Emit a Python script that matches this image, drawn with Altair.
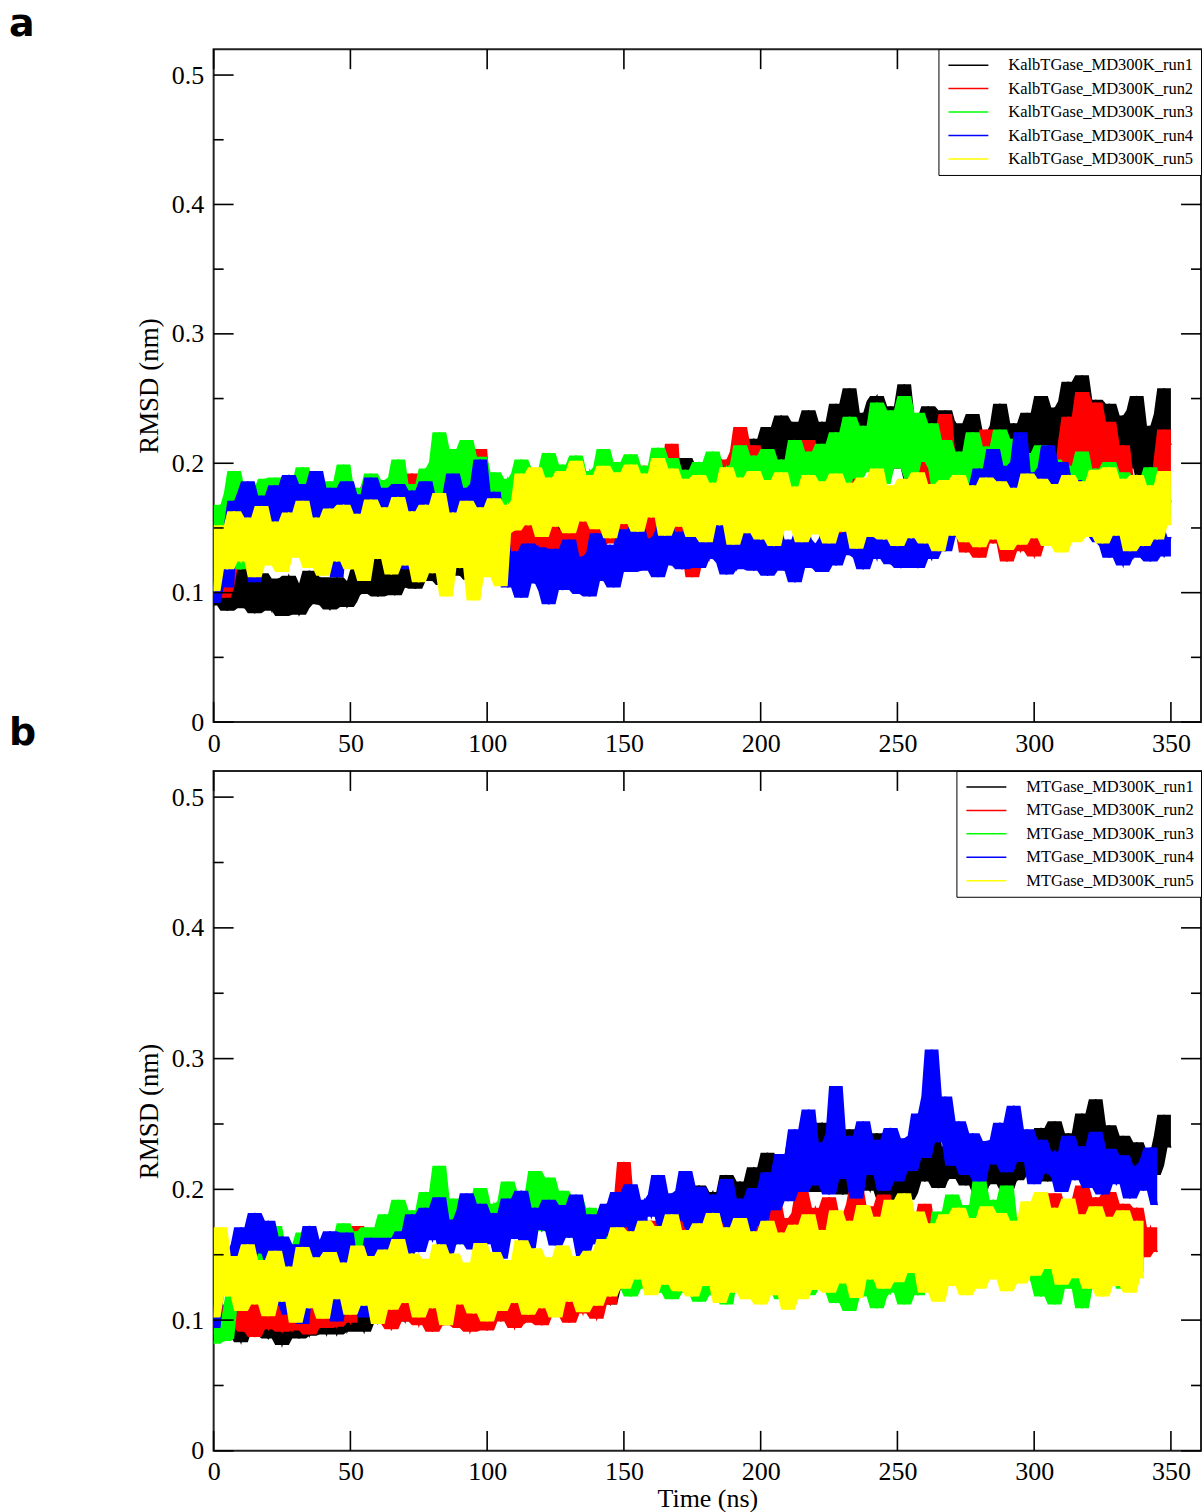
import altair as alt
import pandas as pd

# Sampling interval of the RMSD traces (ns); values are stored in units of 0.001 nm
STEP = 1.25

# ---- Panel a: KalbTGase, five 300 K runs ----
kalb_run1 = [
    90, 101, 112, 94, 86, 105, 118, 110, 95, 88, 108, 119, 84, 97, 115, 102, 92, 86, 104, 111,
    82, 96, 113, 107, 94, 83, 88, 101, 117, 104, 91, 112, 105, 90, 87, 99, 112, 108, 98, 89,
    93, 109, 118, 99, 101, 114, 126, 106, 97, 110, 121, 127, 108, 98, 132, 116, 104, 123, 119, 103,
    112, 124, 138, 118, 109, 133, 129, 106, 117, 128, 143, 122, 113, 131, 135, 110, 121, 137, 146, 119,
    118, 132, 139, 121, 127, 144, 152, 130, 124, 141, 147, 126, 133, 149, 158, 136, 129, 145, 151, 134,
    137, 150, 162, 141, 134, 158, 155, 136, 142, 163, 168, 145, 138, 152, 159, 140, 146, 166, 171, 149,
    141, 157, 165, 143, 150, 171, 176, 152, 146, 160, 169, 178, 155, 166, 183, 161, 162, 189, 204, 172,
    168, 187, 198, 173, 175, 194, 206, 180, 171, 201, 192, 176, 183, 204, 211, 184, 178, 196, 219, 189,
    186, 211, 228, 194, 179, 221, 237, 203, 192, 232, 224, 189, 185, 216, 241, 207, 198, 226, 232, 195,
    188, 219, 246, 206, 201, 236, 258, 214, 194, 227, 239, 198, 207, 248, 252, 211, 189, 233, 244, 205,
    196, 238, 261, 209, 185, 219, 236, 191, 198, 244, 229, 186, 178, 213, 241, 202, 192, 231, 226, 188,
    182, 213, 238, 197, 175, 206, 224, 187, 191, 229, 246, 201, 184, 218, 231, 193, 196, 226, 239, 204,
    188, 227, 252, 209, 201, 234, 243, 212, 192, 248, 263, 221, 205, 239, 268, 216, 197, 236, 249, 207,
    208, 231, 246, 199, 189, 222, 237, 203, 196, 241, 252, 214, 184, 209, 229, 196, 201, 238, 258, 223,
    214,
]
kalb_run2 = [
    98, 109, 121, 96, 104, 127, 142, 119, 128, 151, 163, 144, 139, 168, 181, 157, 152, 169, 176, 148,
    143, 162, 171, 150, 158, 177, 186, 161, 149, 173, 168, 146, 137, 164, 179, 158, 154, 172, 183, 155,
    146, 167, 174, 151, 159, 182, 188, 163, 151, 169, 177, 148, 142, 160, 169, 174, 161, 184, 192, 166,
    155, 170, 181, 158, 147, 164, 172, 181, 163, 178, 196, 159, 152, 174, 185, 162, 168, 193, 211, 171,
    149, 163, 178, 142, 131, 150, 164, 127, 118, 139, 152, 121, 126, 147, 161, 129, 134, 149, 158, 131,
    122, 137, 149, 126, 138, 159, 171, 141, 127, 146, 156, 124, 133, 157, 168, 138, 141, 163, 177, 148,
    129, 151, 162, 137, 145, 176, 198, 157, 136, 167, 184, 142, 151, 193, 215, 163, 142, 158, 173, 131,
    112, 139, 158, 124, 131, 162, 176, 139, 147, 186, 203, 171, 162, 209, 228, 183, 171, 197, 214, 176,
    158, 181, 193, 154, 143, 168, 182, 151, 161, 192, 206, 163, 149, 201, 218, 172, 166, 188, 197, 152,
    139, 163, 178, 144, 152, 176, 189, 148, 134, 159, 171, 141, 158, 183, 196, 162, 147, 171, 182, 150,
    141, 169, 187, 152, 156, 181, 198, 163, 149, 208, 223, 179, 172, 219, 238, 184, 161, 192, 204, 147,
    131, 178, 196, 139, 127, 207, 226, 151, 138, 194, 212, 143, 124, 167, 183, 136, 132, 159, 176, 134,
    128, 153, 169, 137, 146, 178, 193, 164, 158, 217, 236, 196, 184, 231, 255, 204, 192, 229, 247, 193,
    176, 214, 232, 181, 168, 197, 214, 158, 149, 176, 191, 138, 131, 161, 178, 143, 152, 204, 226, 168,
    172,
]
kalb_run3 = [
    102, 141, 168, 159, 152, 177, 194, 163, 118, 154, 181, 172, 149, 161, 176, 188, 158, 171, 189, 156,
    147, 172, 183, 164, 161, 185, 197, 168, 152, 162, 178, 157, 144, 171, 186, 159, 163, 181, 199, 167,
    151, 169, 181, 162, 158, 176, 192, 171, 146, 163, 187, 178, 162, 189, 203, 166, 155, 174, 184, 161,
    163, 181, 196, 172, 158, 201, 224, 183, 167, 192, 211, 176, 152, 187, 218, 179, 171, 193, 205, 168,
    156, 178, 193, 167, 162, 174, 188, 181, 171, 192, 203, 177, 166, 183, 196, 169, 174, 194, 208, 182,
    168, 187, 199, 172, 176, 193, 206, 179, 163, 181, 194, 186, 178, 197, 211, 183, 169, 188, 201, 175,
    174, 191, 207, 178, 166, 184, 198, 188, 179, 196, 212, 182, 171, 193, 204, 185, 176, 188, 195, 172,
    168, 185, 201, 179, 174, 196, 209, 183, 163, 179, 197, 191, 177, 199, 214, 186, 171, 193, 206, 178,
    166, 192, 211, 184, 175, 189, 203, 181, 169, 198, 218, 187, 178, 196, 209, 183, 172, 201, 215, 189,
    181, 207, 224, 193, 176, 212, 236, 201, 188, 214, 229, 206, 193, 222, 247, 209, 184, 227, 241, 204,
    196, 229, 252, 211, 188, 217, 239, 214, 201, 222, 231, 196, 179, 203, 218, 188, 172, 194, 209, 183,
    176, 203, 224, 187, 168, 196, 213, 191, 182, 209, 226, 193, 174, 201, 219, 188, 181, 197, 208, 179,
    169, 193, 214, 186, 177, 194, 203, 176, 165, 184, 198, 181, 172, 191, 209, 178, 163, 182, 196, 171,
    158, 184, 201, 173, 166, 179, 193, 168, 154, 172, 188, 176, 161, 183, 197, 162, 149, 167, 182, 158,
    171,
]
kalb_run4 = [
    92, 118, 148, 131, 104, 152, 171, 163, 157, 178, 186, 149, 108, 162, 175, 158, 143, 171, 183, 164,
    152, 178, 191, 163, 138, 159, 177, 184, 162, 171, 194, 158, 146, 172, 181, 155, 112, 147, 169, 186,
    141, 163, 176, 149, 155, 172, 189, 161, 134, 157, 172, 181, 158, 167, 184, 143, 118, 161, 179, 166,
    153, 174, 186, 148, 121, 158, 174, 162, 147, 177, 192, 168, 119, 154, 181, 171, 156, 184, 203, 164,
    142, 167, 178, 139, 151, 118, 104, 121, 132, 109, 96, 124, 138, 114, 107, 135, 129, 101, 91, 117,
    134, 118, 102, 127, 141, 123, 112, 99, 128, 113, 97, 131, 146, 121, 109, 126, 137, 104, 118, 132,
    149, 128, 116, 141, 153, 117, 124, 136, 142, 129, 112, 147, 158, 131, 121, 139, 147, 118, 131, 143,
    151, 134, 119, 128, 144, 137, 126, 149, 156, 123, 114, 132, 139, 118, 122, 141, 148, 129, 117, 138,
    145, 124, 113, 137, 152, 131, 124, 117, 141, 126, 108, 134, 149, 141, 127, 119, 138, 129, 116, 142,
    153, 136, 121, 132, 146, 141, 129, 148, 162, 127, 118, 139, 149, 133, 126, 144, 157, 131, 122, 137,
    141, 119, 128, 143, 155, 134, 119, 138, 148, 131, 126, 147, 159, 141, 132, 152, 171, 158, 143, 162,
    178, 169, 158, 184, 196, 177, 166, 193, 211, 186, 171, 198, 189, 174, 162, 201, 224, 189, 168, 181,
    193, 178, 172, 197, 214, 184, 163, 188, 201, 176, 158, 172, 187, 163, 152, 169, 178, 143, 161, 139,
    149, 136, 127, 141, 153, 128, 121, 139, 146, 127, 132, 148, 158, 137, 124, 143, 151, 133, 128, 136,
    143,
]
kalb_run5 = [
    101, 128, 152, 137, 118, 147, 163, 131, 124, 142, 158, 126, 112, 139, 167, 144, 121, 133, 155, 129,
    116, 141, 162, 134, 127, 149, 171, 138, 119, 145, 158, 131, 113, 137, 165, 142, 124, 151, 168, 135,
    118, 139, 161, 127, 109, 146, 172, 143, 126, 152, 166, 133, 114, 141, 174, 148, 121, 136, 163, 131,
    108, 137, 168, 129, 115, 149, 177, 124, 97, 138, 162, 145, 119, 133, 171, 127, 94, 131, 166, 142,
    112, 139, 173, 128, 105, 146, 168, 163, 148, 171, 192, 166, 152, 178, 197, 169, 143, 164, 189, 172,
    151, 168, 194, 173, 146, 179, 202, 172, 155, 167, 191, 176, 149, 181, 198, 164, 142, 171, 193, 177,
    153, 174, 199, 168, 147, 172, 192, 177, 158, 183, 204, 171, 144, 169, 196, 174, 151, 167, 188, 162,
    143, 168, 191, 159, 139, 163, 185, 171, 152, 177, 197, 164, 137, 161, 189, 172, 146, 169, 194, 166,
    141, 162, 187, 158, 136, 167, 193, 171, 148, 163, 182, 159, 139, 168, 191, 163, 145, 166, 186, 157,
    138, 164, 192, 169, 147, 161, 185, 155, 134, 163, 189, 172, 143, 167, 196, 159, 141, 164, 183, 158,
    136, 161, 188, 166, 142, 169, 193, 158, 138, 162, 184, 153, 132, 161, 187, 167, 144, 171, 191, 163,
    139, 158, 183, 161, 135, 164, 189, 168, 141, 166, 186, 157, 133, 152, 181, 163, 137, 168, 192, 162,
    142, 167, 188, 159, 136, 161, 184, 156, 131, 163, 191, 168, 139, 164, 186, 171, 143, 169, 195, 164,
    138, 171, 197, 166, 144, 163, 188, 158, 132, 164, 191, 161, 136, 157, 183, 166, 141, 172, 194, 168,
    152,
]

# ---- Panel b: MTGase, five 300 K runs ----
mtg_run1 = [
    84, 95, 102, 87, 89, 99, 97, 91, 83, 94, 106, 97, 91, 103, 99, 88, 86, 96, 104, 92,
    81, 90, 98, 104, 93, 86, 108, 97, 88, 94, 101, 109, 94, 89, 111, 98, 89, 95, 103, 91,
    96, 104, 109, 97, 91, 102, 114, 105, 98, 108, 112, 99, 103, 113, 118, 106, 99, 111, 121, 109,
    104, 116, 123, 111, 108, 101, 119, 114, 112, 121, 127, 115, 106, 118, 124, 109, 113, 122, 129, 117,
    109, 119, 126, 113, 114, 124, 131, 118, 111, 121, 128, 116, 117, 127, 134, 121, 113, 123, 129, 118,
    118, 127, 136, 122, 115, 126, 132, 119, 121, 131, 139, 124, 117, 121, 126, 114, 112, 123, 131, 135,
    138, 147, 156, 141, 147, 159, 168, 155, 152, 166, 174, 162, 161, 176, 183, 171, 169, 181, 192, 178,
    176, 191, 203, 187, 184, 193, 198, 182, 179, 196, 211, 191, 188, 199, 206, 186, 182, 203, 217, 196,
    193, 214, 228, 205, 201, 213, 219, 198, 195, 226, 242, 216, 207, 224, 236, 211, 198, 236, 251, 217,
    204, 226, 238, 209, 196, 229, 246, 218, 209, 221, 231, 204, 199, 227, 243, 212, 191, 209, 228, 203,
    186, 201, 214, 192, 197, 224, 241, 219, 206, 238, 257, 222, 201, 217, 233, 208, 212, 234, 246, 219,
    203, 227, 239, 211, 196, 214, 228, 204, 208, 231, 244, 213, 199, 216, 231, 207, 211, 229, 238, 216,
    214, 236, 247, 218, 206, 234, 252, 223, 219, 229, 243, 216, 211, 241, 258, 227, 221, 249, 269, 232,
    216, 238, 249, 221, 208, 226, 241, 214, 203, 222, 236, 219, 212, 218, 229, 211, 218, 241, 257, 238,
    232,
]
mtg_run2 = [
    89, 101, 112, 98, 94, 108, 121, 104, 98, 91, 109, 117, 87, 102, 115, 96, 93, 111, 106, 95,
    91, 104, 113, 92, 97, 111, 108, 99, 89, 106, 117, 109, 102, 94, 123, 107, 95, 101, 111, 103,
    98, 146, 172, 141, 124, 139, 163, 118, 101, 109, 118, 97, 93, 105, 114, 102, 99, 113, 121, 104,
    96, 108, 117, 101, 91, 112, 124, 96, 102, 114, 119, 106, 94, 103, 112, 91, 97, 109, 126, 111,
    92, 103, 115, 107, 99, 114, 122, 101, 94, 109, 118, 98, 101, 116, 127, 108, 96, 112, 121, 104,
    103, 114, 124, 109, 98, 117, 129, 112, 105, 121, 131, 108, 101, 118, 125, 114, 112, 136, 158, 191,
    221, 188, 163, 174, 184, 159, 152, 168, 176, 162, 149, 157, 171, 164, 158, 176, 183, 168, 162, 171,
    174, 162, 151, 172, 186, 169, 163, 184, 179, 163, 156, 177, 191, 168, 148, 163, 177, 171, 161, 168,
    184, 167, 153, 179, 192, 174, 166, 161, 178, 163, 149, 182, 198, 184, 171, 179, 186, 172, 159, 176,
    194, 177, 162, 168, 181, 172, 155, 189, 203, 184, 168, 176, 187, 166, 158, 181, 196, 184, 171, 179,
    182, 168, 159, 171, 176, 163, 148, 172, 189, 166, 157, 162, 171, 154, 146, 167, 178, 161, 152, 144,
    139, 154, 162, 141, 131, 149, 158, 143, 136, 152, 167, 157, 142, 163, 173, 159, 151, 172, 184, 169,
    163, 182, 191, 176, 171, 186, 197, 178, 164, 173, 188, 184, 176, 192, 203, 181, 168, 183, 194, 177,
    172, 189, 198, 174, 161, 177, 189, 164, 153, 171, 186, 159, 148, 163, 171, 158, 152,
]
mtg_run3 = [
    82, 91, 98, 84, 86, 112, 131, 147, 154, 136, 118, 149, 162, 141, 127, 138, 149, 163, 172, 151,
    133, 147, 158, 139, 124, 151, 167, 143, 138, 162, 151, 134, 129, 148, 163, 152, 141, 159, 174, 149,
    136, 157, 168, 153, 147, 171, 159, 148, 143, 164, 181, 167, 152, 178, 192, 171, 157, 169, 184, 172,
    163, 182, 198, 179, 171, 197, 218, 184, 164, 178, 193, 171, 158, 174, 187, 163, 169, 188, 201, 176,
    161, 177, 189, 183, 172, 191, 206, 179, 166, 183, 197, 186, 176, 192, 214, 188, 168, 186, 209, 181,
    174, 188, 199, 179, 163, 181, 194, 176, 171, 179, 186, 167, 158, 169, 179, 161, 143, 132, 124, 131,
    138, 126, 118, 133, 146, 137, 124, 141, 151, 132, 128, 121, 139, 128, 116, 131, 147, 136, 121, 129,
    136, 122, 114, 137, 148, 131, 125, 119, 141, 127, 112, 136, 153, 139, 129, 133, 143, 128, 118, 134,
    151, 133, 122, 138, 144, 126, 116, 141, 158, 142, 127, 129, 146, 133, 119, 131, 154, 138, 124, 136,
    139, 121, 113, 129, 148, 124, 107, 119, 142, 131, 118, 137, 151, 128, 109, 118, 137, 129, 121, 133,
    146, 127, 112, 124, 139, 131, 119, 143, 152, 158, 131, 162, 183, 171, 147, 176, 196, 184, 158, 172,
    188, 171, 154, 183, 207, 189, 163, 178, 192, 184, 171, 168, 203, 161, 149, 163, 178, 151, 136, 142,
    148, 129, 118, 134, 153, 127, 112, 126, 141, 137, 124, 139, 156, 128, 109, 124, 147, 138, 126, 141,
    158, 144, 131, 147, 162, 139, 124, 141, 153, 146, 137, 144, 149,
]
mtg_run4 = [
    94, 121, 138, 146, 152, 131, 119, 158, 171, 162, 143, 168, 182, 164, 151, 163, 176, 142, 111, 147,
    164, 138, 104, 142, 158, 121, 97, 153, 172, 161, 142, 127, 108, 149, 168, 146, 99, 131, 153, 167,
    114, 136, 147, 118, 102, 148, 163, 127, 109, 151, 138, 163, 121, 144, 157, 168, 143, 166, 181, 159,
    152, 173, 186, 167, 161, 178, 194, 171, 148, 162, 177, 158, 166, 184, 197, 172, 154, 171, 189, 166,
    158, 172, 182, 161, 147, 178, 193, 169, 162, 187, 199, 173, 151, 169, 186, 177, 169, 181, 192, 168,
    157, 176, 188, 171, 163, 184, 196, 167, 149, 163, 181, 172, 158, 166, 177, 189, 164, 181, 198, 177,
    171, 188, 204, 176, 163, 181, 192, 186, 179, 196, 211, 184, 168, 183, 197, 188, 176, 199, 214, 187,
    169, 186, 202, 178, 161, 183, 196, 181, 174, 193, 208, 182, 166, 179, 193, 171, 158, 184, 201, 188,
    172, 194, 213, 197, 184, 207, 227, 203, 191, 226, 246, 214, 198, 232, 261, 219, 203, 221, 236, 209,
    196, 243, 279, 221, 208, 227, 241, 212, 193, 224, 252, 229, 211, 224, 238, 213, 199, 231, 247, 218,
    206, 226, 239, 224, 214, 241, 258, 239, 224, 271, 307, 252, 236, 258, 271, 241, 218, 237, 252, 226,
    211, 231, 243, 219, 206, 224, 237, 228, 219, 238, 251, 226, 213, 244, 264, 234, 221, 239, 246, 223,
    204, 221, 238, 219, 212, 223, 229, 209, 198, 224, 241, 217, 207, 221, 233, 213, 201, 228, 244, 216,
    196, 219, 231, 208, 204, 217, 226, 204, 193, 211, 218, 207, 199, 223, 232, 201, 188,
]
mtg_run5 = [
    102, 136, 171, 142, 118, 131, 149, 127, 107, 134, 158, 129, 112, 138, 146, 121, 103, 128, 153, 132,
    114, 129, 141, 119, 98, 127, 156, 133, 109, 126, 148, 137, 101, 124, 152, 139, 116, 131, 144, 122,
    104, 133, 157, 128, 111, 136, 149, 122, 97, 129, 154, 136, 108, 141, 162, 134, 113, 132, 151, 126,
    102, 124, 147, 131, 109, 138, 158, 127, 96, 121, 151, 133, 112, 129, 144, 136, 105, 127, 159, 131,
    99, 126, 152, 134, 107, 124, 146, 137, 113, 139, 161, 131, 104, 128, 155, 133, 109, 126, 148, 129,
    102, 128, 157, 137, 114, 124, 149, 131, 106, 135, 153, 139, 111, 142, 162, 144, 118, 149, 171, 146,
    124, 151, 168, 144, 131, 158, 176, 147, 119, 143, 172, 152, 127, 156, 181, 149, 122, 147, 169, 141,
    118, 146, 174, 152, 126, 159, 182, 143, 113, 141, 171, 149, 121, 153, 178, 144, 116, 139, 168, 142,
    112, 147, 176, 138, 119, 143, 167, 134, 108, 141, 173, 146, 116, 152, 181, 149, 123, 144, 169, 147,
    121, 153, 184, 149, 128, 151, 176, 144, 117, 152, 188, 161, 131, 157, 179, 151, 124, 158, 192, 163,
    129, 162, 197, 159, 136, 157, 183, 146, 121, 148, 174, 139, 114, 147, 181, 152, 126, 156, 186, 148,
    119, 143, 178, 151, 124, 156, 187, 161, 131, 154, 182, 147, 122, 149, 176, 152, 128, 163, 191, 158,
    134, 166, 198, 161, 139, 158, 186, 154, 127, 159, 193, 162, 132, 153, 181, 149, 124, 155, 187, 151,
    118, 148, 179, 153, 126, 157, 184, 151, 121, 146, 176, 149, 132,
]

runs_a = ["KalbTGase_MD300K_run1", "KalbTGase_MD300K_run2", "KalbTGase_MD300K_run3",
          "KalbTGase_MD300K_run4", "KalbTGase_MD300K_run5"]
runs_b = ["MTGase_MD300K_run1", "MTGase_MD300K_run2", "MTGase_MD300K_run3",
          "MTGase_MD300K_run4", "MTGase_MD300K_run5"]
series_a = [kalb_run1, kalb_run2, kalb_run3, kalb_run4, kalb_run5]
series_b = [mtg_run1, mtg_run2, mtg_run3, mtg_run4, mtg_run5]
run_colors = ["#000000", "#ff0000", "#00ff00", "#0000ff", "#ffff00"]

x_major = [0, 50, 100, 150, 200, 250, 300, 350]
y_major = [0, 0.1, 0.2, 0.3, 0.4, 0.5]
y_minor = [0.05, 0.15, 0.25, 0.35, 0.45]
panel_labels = ["a", "b"]

SERIF = "Liberation Serif"


def long_table(series, names):
    rows = []
    for name, vals in zip(names, series):
        for i, v in enumerate(vals):
            rows.append({"time": i * STEP, "rmsd": v / 1000.0, "run": name})
    return pd.DataFrame(rows)


def panel(series, names, label, w, h, label_y, x_title):
    xs = alt.Scale(domain=[0, 361], nice=False, zero=False)
    ys = alt.Scale(domain=[0, 0.52], nice=False)
    x_axis = alt.Axis(values=x_major, format="d", title=x_title, ticks=False, domain=False,
                      grid=False, labelFlush=False, labelFont=SERIF, labelFontSize=26,
                      labelColor="black", labelPadding=8, titleFont=SERIF, titleFontSize=26,
                      titleFontWeight="normal", titleColor="black", titlePadding=1)
    y_axis = alt.Axis(values=y_major, format="~g", title="RMSD (nm)", ticks=False, domain=False,
                      grid=False, labelFlush=False, labelFont=SERIF, labelFontSize=26,
                      labelColor="black", labelPadding=10, titleFont=SERIF, titleFontSize=27,
                      titleFontWeight="normal", titleColor="black", titlePadding=8)
    color = alt.Color("run:N", scale=alt.Scale(domain=names, range=run_colors),
                      legend=alt.Legend(title=None))

    data = long_table(series, names)
    layers = []
    # each run: the span swept by neighbouring frames, then the trace itself;
    # later runs are drawn over earlier ones
    for name, col in zip(names, run_colors):
        run = alt.Chart(data).transform_filter(alt.datum.run == name)
        layers.append(
            run.transform_window(lo="min(rmsd)", hi="max(rmsd)", frame=[-2, 2],
                                 sort=[alt.SortField("time")])
            .mark_area(color=col, opacity=1, clip=True)
            .encode(x=alt.X("time:Q", scale=xs, axis=x_axis),
                    y=alt.Y("lo:Q", scale=ys, axis=y_axis),
                    y2="hi:Q")
        )
        layers.append(
            run.mark_line(strokeWidth=1.5, clip=True)
            .encode(x=alt.X("time:Q", scale=xs, axis=x_axis),
                    y=alt.Y("rmsd:Q", scale=ys, axis=y_axis),
                    color=color)
        )

    # inward-pointing tick marks on all four sides
    xt = alt.Chart(pd.DataFrame({"t": x_major}))
    yt = alt.Chart(pd.DataFrame({"v": y_major}))
    ym = alt.Chart(pd.DataFrame({"v": y_minor}))
    tick = dict(color="black", strokeWidth=1.6)
    xenc = alt.X("t:Q", scale=xs, axis=x_axis)
    yenc = alt.Y("v:Q", scale=ys, axis=y_axis)
    layers += [
        xt.mark_rule(**tick).encode(x=xenc, y=alt.value(h), y2=alt.value(h - 20)),
        xt.mark_rule(**tick).encode(x=xenc, y=alt.value(0), y2=alt.value(20)),
        yt.mark_rule(**tick).encode(y=yenc, x=alt.value(0), x2=alt.value(20)),
        yt.mark_rule(**tick).encode(y=yenc, x=alt.value(w), x2=alt.value(w - 20)),
        ym.mark_rule(**tick).encode(y=yenc, x=alt.value(0), x2=alt.value(10)),
        ym.mark_rule(**tick).encode(y=yenc, x=alt.value(w), x2=alt.value(w - 10)),
    ]

    # panel letter
    layers.append(
        alt.Chart(pd.DataFrame({"p": [label]}))
        .mark_text(font="DejaVu Sans", fontWeight="bold", fontSize=38, align="left",
                   baseline="alphabetic", color="black")
        .encode(text="p:N", x=alt.value(-205), y=alt.value(label_y))
    )
    return alt.layer(*layers).properties(width=w, height=h)


top = panel(series_a, runs_a, panel_labels[0], 989, 674, -13, None)
bottom = panel(series_b, runs_b, panel_labels[1], 989, 681, -26, "Time (ns)")

chart = (
    alt.vconcat(top, bottom, spacing=49, bounds="flush")
    .resolve_scale(color="independent")
    .properties(padding={"left": 8, "top": 4, "right": 1, "bottom": 0})
    .configure_view(stroke="#222222", strokeWidth=2)
    .configure_legend(orient="top-right", offset=0, strokeColor="black", fillColor="white",
                      padding=7, labelFont=SERIF, labelFontSize=16.5, labelColor="black",
                      labelLimit=400, labelOffset=31, symbolType="M-2.5,0H2.5", symbolSize=256,
                      symbolOffset=14, symbolStrokeWidth=1.5, rowPadding=5.5)
)

chart.save("out.html", embed_options={"renderer": "svg", "actions": False})
